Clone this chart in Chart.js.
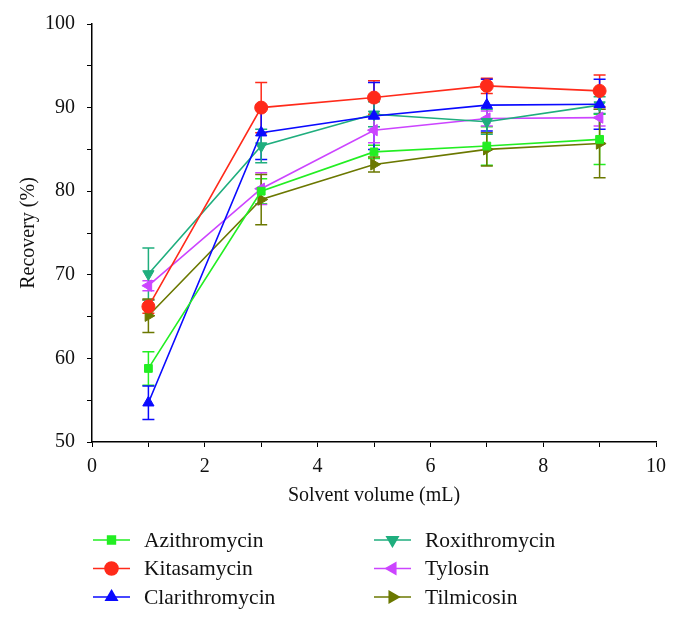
<!DOCTYPE html>
<html>
<head>
<meta charset="utf-8">
<script src="https://cdn.jsdelivr.net/npm/chart.js@4.4.1/dist/chart.umd.min.js"></script>
<style>
html,body{margin:0;padding:0;background:#fff;}
#wrap{width:679px;height:621px;position:relative;}
</style>
</head>
<body>
<div id="wrap"><canvas id="c" width="679" height="621"></canvas></div>
<script>
const volumes = [1, 3, 5, 7, 9];
const seriesNames = ["Azithromycin", "Kitasamycin", "Clarithromycin", "Roxithromycin", "Tylosin", "Tilmicosin"];
const azithromycin   = [58.8, 80.0, 84.7, 85.4, 86.2];
const kitasamycin    = [66.2, 90.0, 91.2, 92.6, 92.0];
const clarithromycin = [54.7, 87.0, 89.0, 90.3, 90.4];
const roxithromycin  = [70.1, 85.4, 89.2, 88.3, 90.3];
const tylosin        = [68.7, 80.3, 87.3, 88.7, 88.8];
const tilmicosin     = [65.1, 79.0, 83.2, 85.0, 85.7];
const azithromycinErr   = [2.0, 1.5, 0.8, 2.3, 3.0];
const kitasamycinErr    = [0.8, 3.0, 2.0, 0.9, 1.9];
const clarithromycinErr = [2.0, 3.2, 4.0, 3.1, 3.0];
const roxithromycinErr  = [3.1, 2.0, 1.5, 1.5, 1.0];
const tylosinErr        = [0.6, 1.9, 1.5, 0.9, 1.0];
const tilmicosinErr     = [2.0, 3.0, 0.9, 2.0, 4.1];
const xTicks = [0, 2, 4, 6, 8, 10];
const yTicks = [50, 60, 70, 80, 90, 100];

const colors = ["#22ee22", "#ff2a1a", "#0a0aff", "#1fae7e", "#cc44ff", "#6b7800"];
const styles = ["rect", "circle", "triangle", "triangle", "triangle", "triangle"];
const rotations = [0, 0, 0, 180, 270, 90];
const values = [azithromycin, kitasamycin, clarithromycin, roxithromycin, tylosin, tilmicosin];
const errs = [azithromycinErr, kitasamycinErr, clarithromycinErr, roxithromycinErr, tylosinErr, tilmicosinErr];

const FONT = "'Liberation Serif', 'DejaVu Serif', serif";

const datasets = seriesNames.map((name, i) => ({
  label: name,
  data: volumes.map((v, j) => ({x: v, y: values[i][j]})),
  errors: errs[i],
  borderColor: colors[i],
  backgroundColor: colors[i],
  pointStyle: styles[i],
  rotation: rotations[i],
  pointRadius: styles[i] === "rect" ? 5.5 : 6.5,
  pointBorderWidth: 1,
  borderWidth: 1.6,
  tension: 0,
  fill: false
}));

const errorBarPlugin = {
  id: "errorBars",
  beforeDatasetsDraw(chart) {
    const ctx = chart.ctx;
    const xs = chart.scales.x, ys = chart.scales.y;
    ctx.save();
    chart.data.datasets.forEach((ds) => {
      ctx.strokeStyle = ds.borderColor;
      ctx.lineWidth = 1.5;
      ds.data.forEach((p, j) => {
        const e = ds.errors[j];
        const px = xs.getPixelForValue(p.x);
        const top = ys.getPixelForValue(p.y + e);
        const bot = ys.getPixelForValue(p.y - e);
        ctx.beginPath();
        ctx.moveTo(px, top); ctx.lineTo(px, bot);
        ctx.moveTo(px - 6, top); ctx.lineTo(px + 6, top);
        ctx.moveTo(px - 6, bot); ctx.lineTo(px + 6, bot);
        ctx.stroke();
      });
    });
    ctx.restore();
  }
};

const legendPlugin = {
  id: "customLegend",
  afterDraw(chart) {
    const ctx = chart.ctx;
    ctx.save();
    ctx.font = "21.5px " + FONT;
    ctx.textBaseline = "middle";
    chart.data.datasets.forEach((ds, i) => {
      const col = Math.floor(i / 3), row = i % 3;
      const x0 = 93 + col * 281;
      const y = 540 + row * 28.5;
      ctx.strokeStyle = ds.borderColor;
      ctx.lineWidth = 1.6;
      ctx.beginPath(); ctx.moveTo(x0, y); ctx.lineTo(x0 + 37, y); ctx.stroke();
      ctx.fillStyle = ds.backgroundColor;
      Chart.helpers.drawPoint(ctx, {
        pointStyle: ds.pointStyle, rotation: ds.rotation,
        radius: ds.pointRadius, borderWidth: 1
      }, x0 + 18.5, y);
      ctx.fillStyle = "#111";
      ctx.fillText(ds.label, x0 + 51, y + 1);
    });
    ctx.restore();
  }
};

new Chart(document.getElementById("c"), {
  type: "line",
  data: { datasets },
  options: {
    responsive: false,
    animation: false,
    layout: { padding: { left: 2, right: 23, top: 22, bottom: 110 } },
    plugins: { legend: { display: false }, tooltip: { enabled: false } },
    scales: {
      x: {
        type: "linear", min: 0, max: 10,
        border: { display: true, color: "#000", width: 1.5 },
        grid: { display: true, drawOnChartArea: false, drawTicks: true, tickLength: 5, color: "#000", tickColor: "#000" },
        ticks: {
          stepSize: 1, autoSkip: false, color: "#111", padding: 8,
          font: { family: FONT, size: 20 },
          callback: (v) => xTicks.includes(v) ? String(v) : ""
        },
        title: { display: true, text: "Solvent volume (mL)", color: "#111", font: { family: FONT, size: 20 }, padding: { top: -3, bottom: 3 } }
      },
      y: {
        type: "linear", min: 50, max: 100,
        afterFit: (s) => { s.width = 90; },
        border: { display: true, color: "#000", width: 1.5 },
        grid: { display: true, drawOnChartArea: false, drawTicks: true, tickLength: 5, color: "#000", tickColor: "#000" },
        ticks: {
          stepSize: 5, autoSkip: false, color: "#111", padding: 12,
          font: { family: FONT, size: 20 },
          callback: (v) => yTicks.includes(v) ? String(v) : ""
        },
        title: { display: true, text: "Recovery (%)", color: "#111", font: { family: FONT, size: 20 }, padding: { top: 15, bottom: 6 } }
      }
    }
  },
  plugins: [errorBarPlugin, legendPlugin]
});
</script>
</body>
</html>
